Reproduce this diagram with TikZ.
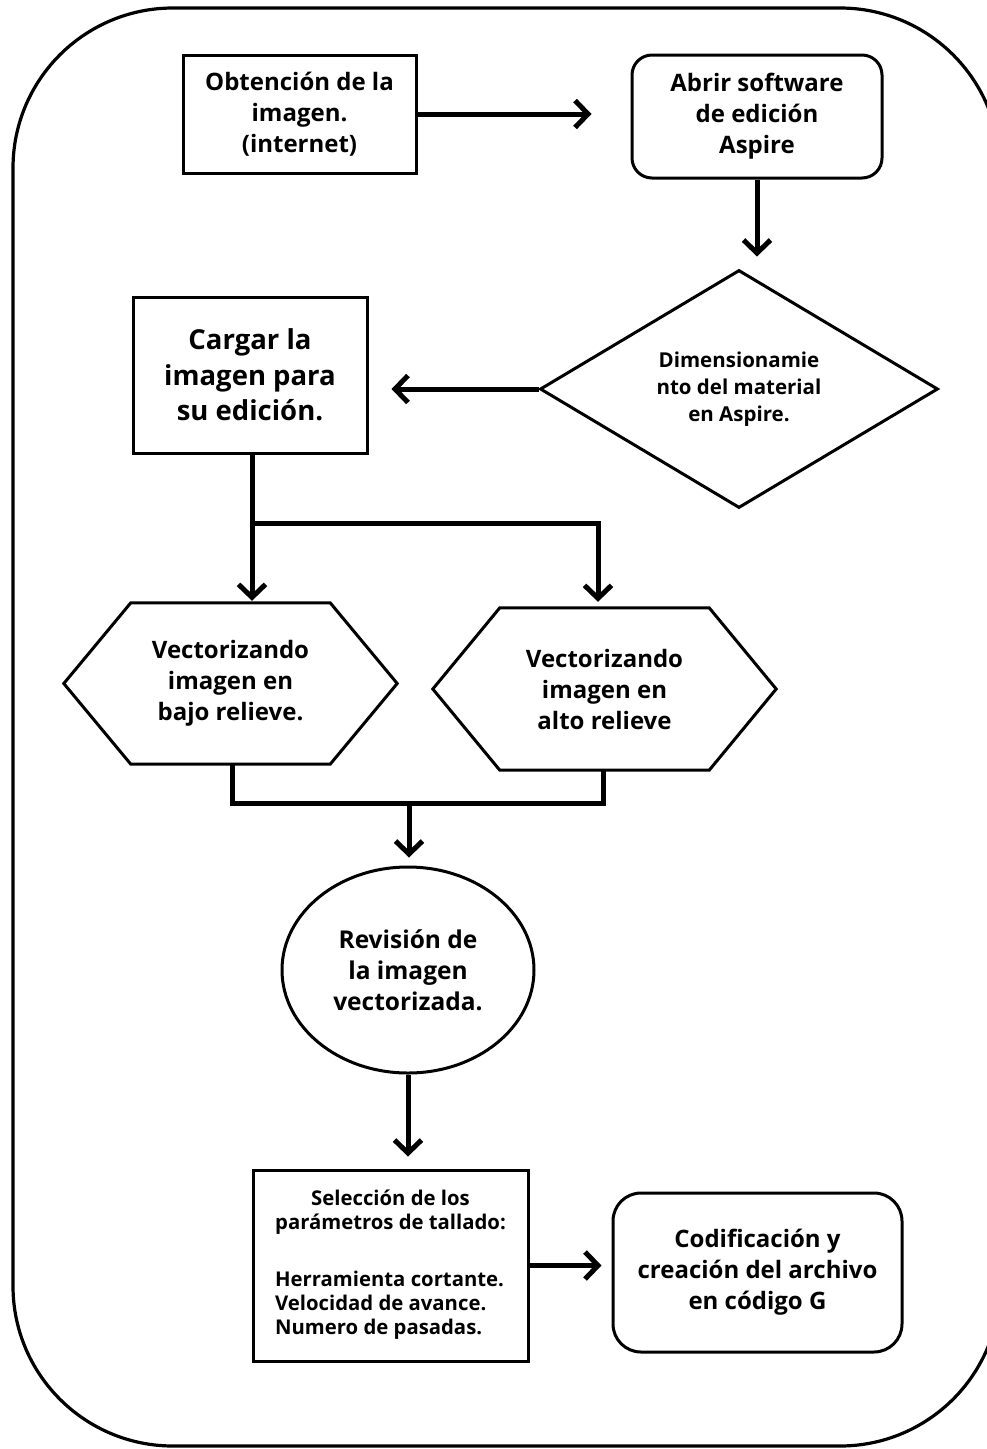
\documentclass[tikz,border=0pt]{standalone}
\usepackage{fontspec}
\setmainfont{Open Sans}
\usetikzlibrary{shapes.geometric,arrows.meta,calc}

\tikzset{
  box/.style={draw, line width=3pt, align=center, inner sep=0pt},
  rbox/.style={box, rounded corners=#1},
  slot/.style={inner sep=0pt, align=center},
  txt/.style 2 args={font=\bfseries\fontsize{#1}{#2}\selectfont},
  flow/.style={line width=5pt, -{Straight Barb[length=13pt,width=27pt]}},
  wire/.style={line width=5pt},
}

\begin{document}
\begin{tikzpicture}[x=1pt,y=-1pt]
\clip (0,0) rectangle (987,1449);

% outer frame
\draw[line width=3.2pt, rounded corners=160pt] (13,8) rectangle (1000,1446);

% nodes
\node[box, txt={24}{31}, minimum width=233pt, minimum height=118pt] (A) at (299.5,114)
  {Obtención de la\\ imagen.\\ (internet)};

\node[rbox=20pt, txt={24}{31}, minimum width=250pt, minimum height=123pt] (B) at (757,116.5)
  {Abrir software\\ de edición\\ Aspire};

\node[box, txt={20.5}{27}, shape=diamond, aspect=1.67, minimum width=398pt, minimum height=238pt] (C) at (739,389)
  {Dimensionamie\\ nto del material\\ en Aspire.};

\node[box, txt={27.5}{35.5}, minimum width=234pt, minimum height=156pt] (D) at (250,375)
  {Cargar la\\ imagen para\\ su edición.};

% hexagons: named slots, outlines drawn from their anchors
\node[slot, txt={24}{31}, minimum width=333pt, minimum height=161pt] (E) at (230.5,683.5)
  {Vectorizando\\ imagen en\\ bajo relieve.};
\node[slot, txt={24}{31}, minimum width=343pt, minimum height=162pt] (F) at (604.5,689)
  {Vectorizando\\ imagen en\\ alto relieve};
\foreach \h in {E,F}{
  \draw[line width=3pt, line join=miter]
    (\h.west) -- ($(\h.north west)+(67,0)$) -- ($(\h.north east)+(-67,0)$)
    -- (\h.east) -- ($(\h.south east)+(-67,0)$) -- ($(\h.south west)+(67,0)$) -- cycle;
}

\node[box, txt={24.5}{31}, shape=ellipse, minimum width=252pt, minimum height=206pt] (G) at (408,970)
  {Revisión de\\ la imagen\\ vectorizada.};

\node[box, txt={20.3}{24}, minimum width=275pt, minimum height=191pt] (H) at (390.5,1265.5)
  {\begin{tabular}{@{}l@{}}
   \multicolumn{1}{@{}c@{}}{Selección de los}\\
   \multicolumn{1}{@{}c@{}}{parámetros de tallado:}\\[33pt]
   Herramienta cortante.\\
   Velocidad de avance.\\
   Numero de pasadas.
   \end{tabular}};

\node[rbox=28pt, txt={24}{31}, minimum width=289pt, minimum height=159pt] (I) at (757.5,1272.5)
  {Codificación y\\ creación del archivo\\ en código G};

% junction points
\coordinate (splitL) at (252,523);
\coordinate (splitR) at (598,523);
\coordinate (mergeL) at (232,803);
\coordinate (mergeR) at (603,803);
\coordinate (mergeM) at (409,803);

% connectors
\draw[flow, shorten >=39pt] (A.east) -- (A.east -| B.west);
\draw[flow, shorten >=12pt] (B.south) -- (B.south |- C.north);
\draw[flow, shorten >=23pt] (C.west) -- (C.west -| D.east);
\draw[flow, shorten >=2pt] (D.south -| splitL) -- (splitL |- E.north);
\draw[flow, shorten >=6pt] (splitL) -- (splitR) -- (splitR |- F.north);
\draw[wire, line join=miter] (mergeL |- E.south) -- (mergeL) -- (mergeR) -- (mergeR |- F.south);
\draw[flow, shorten >=8pt] (mergeM) -- (mergeM |- G.north);
\draw[flow, shorten >=12pt] (G.south) -- (G.south |- H.north);
\draw[flow, shorten >=10pt] (H.east) -- (H.east -| I.west);
\end{tikzpicture}
\end{document}
